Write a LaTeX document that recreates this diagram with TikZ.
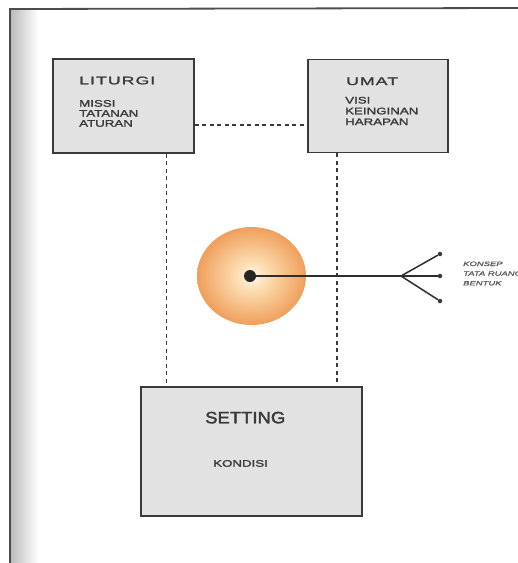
\documentclass[tikz,border=0pt]{standalone}
\usepackage{fontspec}
\setmainfont{Liberation Sans}
\newfontfamily\headfont[FakeStretch=1.6,FakeBold=2,LetterSpace=10]{Liberation Sans}
\newfontfamily\bodyfont[FakeStretch=1.4,FakeBold=2]{Liberation Sans}
\newfontfamily\settingfont[FakeStretch=1.12,FakeBold=2]{Liberation Sans}
\newfontfamily\sidefont[FakeStretch=1.5,FakeBold=1.5]{Liberation Sans}
\usetikzlibrary{calc}
\usetikzlibrary{shapes.geometric}
\definecolor{boxgray}{RGB}{226,226,226}
\definecolor{inkgray}{RGB}{58,58,58}
\definecolor{sidegray}{RGB}{90,90,90}
\pgfdeclareradialshading{discglow}{\pgfpoint{0bp}{0bp}}{rgb(0bp)=(1,0.97,0.92); rgb(7bp)=(0.99,0.87,0.70); rgb(28bp)=(0.93,0.58,0.30); rgb(50bp)=(0.90,0.52,0.25)}
\tikzstyle{block} = [draw=inkgray, line width=1.4pt, fill=boxgray]
\tikzstyle{headtext} = [inner sep=0, text=inkgray, font=\headfont\fontsize{11}{11}\selectfont]
\tikzstyle{bodytext} = [inner sep=0, text=inkgray, align=left, font=\bodyfont\fontsize{9.5}{10}\selectfont]
\tikzstyle{dashlink} = [draw=inkgray, line width=1.1pt, dash pattern=on 4pt off 3.5pt]
\tikzstyle{spoke} = [draw=inkgray!80!black, line width=1.5pt]
\tikzstyle{tip} = [circle, fill=inkgray, inner sep=0, minimum size=4.5pt]

\begin{document}
\begin{tikzpicture}[x=1pt, y=-1pt]
    \useasboundingbox (0,0) rectangle (518,563);
    % edge of the scanned page
    \shade[left color=gray!55, right color=white] (10,10) rectangle (38,563);
    \draw[gray!60!black, line width=1.8pt] (10,563) -- (10,9) -- (518,8);

    \node[block, minimum width=141pt, minimum height=94pt] (liturgi) at (123.5,106) {};
    \node[headtext, anchor=base west] (liturgi_title) at (79,84.3) {LITURGI};
    % base of a multi-line node is its last line
    \node[bodytext, anchor=base west] (liturgi_items) at (79,126.7) {MISSI\\TATANAN\\ATURAN};

    \node[block, minimum width=140pt, minimum height=93pt] (umat) at (378,106) {};
    \node[headtext, anchor=base west] (umat_title) at (346,85) {UMAT};
    \node[bodytext, anchor=base west, font=\bodyfont\fontsize{9.5}{10.8}\selectfont] (umat_items) at (345,125.1) {VISI\\KEINGINAN\\HARAPAN};

    \node[block, minimum width=221pt, minimum height=129pt] (setting) at (251.5,451.5) {};
    \node[headtext, anchor=base west, font=\settingfont\fontsize{16.5}{16.5}\selectfont] (setting_title) at (205,423.3) {SETTING};
    \node[bodytext, anchor=base west] (setting_items) at (213,466.7) {KONDISI};

    \coordinate (hlink) at ($(liturgi.east)+(0,19)$);
    \draw[dashlink] (hlink) -- (hlink -| umat.west);
    \coordinate (ldrop) at ($(liturgi.south)+(43,0)$);
    \draw[dashlink] (ldrop) -- (ldrop |- setting.north);
    \coordinate (rdrop) at ($(umat.south)+(-41,0)$);
    \draw[dashlink] (rdrop) -- (rdrop |- setting.north);

    \node[ellipse, shade, shading=discglow, minimum width=109pt, minimum height=98pt, inner sep=0] (disc) at (251.5,276) {};
    \node[circle, fill=black!85, inner sep=0, minimum size=12pt] (core) at (250,276) {};
    \coordinate (fork) at ($(core)+(151,0)$);
    \node[tip] (tip_a) at ($(fork)+(39,-22)$) {};
    \node[tip] (tip_b) at ($(fork)+(39,0)$) {};
    \node[tip] (tip_c) at ($(fork)+(39,25)$) {};
    \draw[spoke] (core) -- (fork);
    \draw[spoke] (fork) -- (tip_a);
    \draw[spoke] (fork) -- (tip_b);
    \draw[spoke] (fork) -- (tip_c);
    \node[inner sep=0, anchor=base west, align=left, text=sidegray, font=\sidefont\itshape\fontsize{6.3}{9.7}\selectfont] (side_items) at (463,285.4) {KONSEP\\TATA RUANG\\BENTUK};
\end{tikzpicture}
\end{document}
